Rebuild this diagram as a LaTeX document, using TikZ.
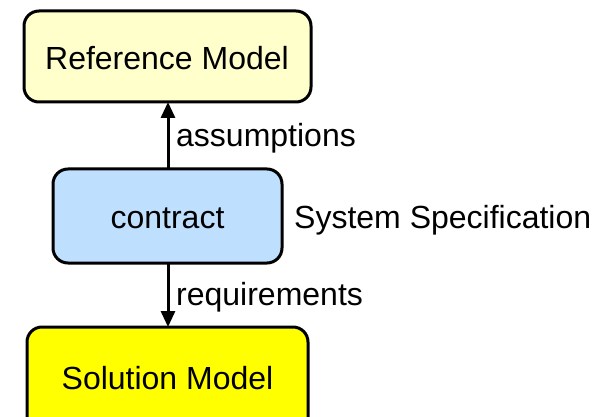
\documentclass[tikz,border=0pt]{standalone}
\usepackage{fontspec}
\setmainfont{Liberation Sans}
\usetikzlibrary{arrows.meta}
\definecolor{refyellow}{HTML}{FFFFCC}
\definecolor{contractblue}{HTML}{BFDFFF}
\definecolor{solyellow}{HTML}{FFFF00}
\tikzset{
  modelbox/.style={draw=black, line width=3pt, rounded corners=15pt},
  lbl/.style={font=\fontsize{32}{38}\selectfont, inner sep=0pt},
  link/.style={line width=3pt, -{Triangle[length=16pt,width=14pt]}}
}
\begin{document}
\begin{tikzpicture}[x=1pt,y=-1pt]
  \useasboundingbox (0,0) rectangle (603,417);
  % boxes
  \draw[modelbox, fill=refyellow] (24,11) rectangle (311,102);
  \draw[modelbox, fill=contractblue] (53,169) rectangle (282,263);
  \draw[modelbox, fill=solyellow] (27,327) rectangle (308,440);
  \coordinate (refbot) at (168,102);
  \coordinate (contop) at (168,169);
  \coordinate (conbot) at (168,263);
  \coordinate (soltop) at (168,327);
  % box texts
  \node[lbl, anchor=base] (ref) at (167,70) {Reference Model};
  \node[lbl, anchor=base] (con) at (167.5,229) {contract};
  \node[lbl, anchor=base] (sol) at (167.5,389) {Solution Model};
  % connectors
  \draw[link] (contop) -- (refbot);
  \draw[link] (conbot) -- (soltop);
  % labels
  \node[lbl, anchor=base west] (asm) at (176,147) {assumptions};
  \node[lbl, anchor=base west] (req) at (176,305) {requirements};
  \node[lbl, anchor=base west] (spec) at (294,229) {System Specification};
\end{tikzpicture}
\end{document}
